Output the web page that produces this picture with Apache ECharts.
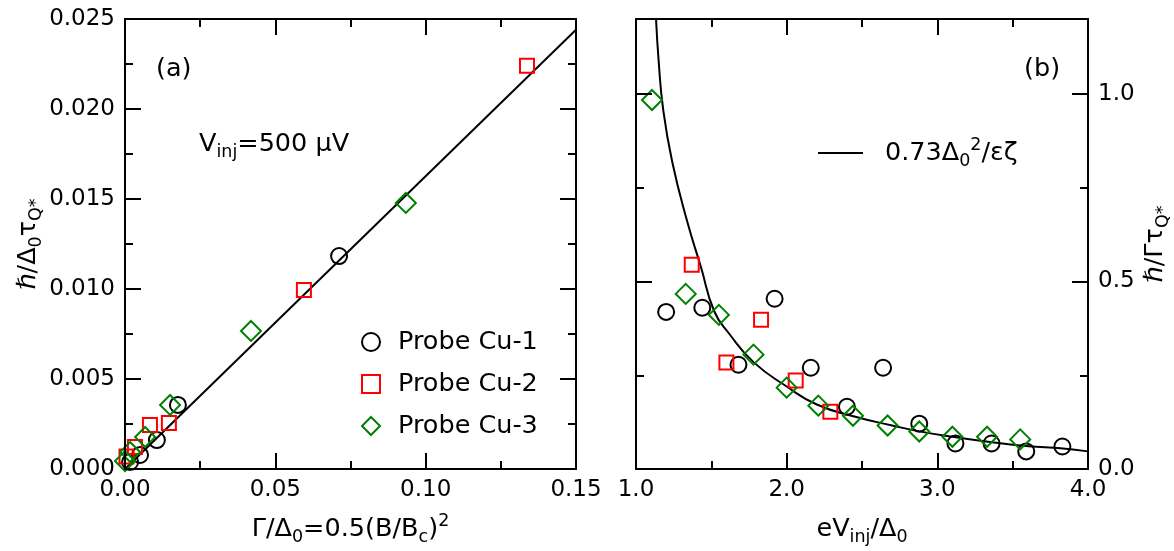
<!DOCTYPE html>
<html><head><meta charset="utf-8">
<script src="https://cdn.jsdelivr.net/npm/echarts@6/dist/echarts.min.js"></script>
<style>html,body{margin:0;padding:0;background:#fff}#c{width:1174px;height:551px}</style>
</head><body><div id="c"></div>
<script>
const FONT = 'DejaVu Sans';

// ---------- Panel (a): hbar/(Delta0 tau_Q*) vs Gamma/Delta0 ----------
const cu1A_x = [0.0712, 0.0176, 0.0106, 0.0050, 0.0017];
const cu1A_y = [0.01183, 0.00356, 0.00161, 0.00078, 0.00039];
const cu2A_x = [0.1337, 0.0595, 0.0146, 0.0083, 0.0033, 0.0005];
const cu2A_y = [0.0224, 0.00994, 0.00256, 0.00244, 0.00122, 0.00070];
const cu3A_x = [0.0934, 0.0419, 0.0150, 0.0067, 0.0017, 0.0000];
const cu3A_y = [0.01478, 0.00767, 0.00356, 0.00178, 0.00094, 0.00044];
const fitA_x = [0, 0.15];
const fitA_y = [0, 0.0244];

// ---------- Panel (b): hbar/(Gamma tau_Q*) vs eV_inj/Delta0 ----------
const cu1B_x = [1.20, 1.44, 1.92, 1.68, 2.16, 2.64, 2.40, 2.88, 3.12, 3.36, 3.59, 3.83];
const cu1B_y = [0.419, 0.430, 0.454, 0.278, 0.270, 0.270, 0.166, 0.121, 0.068, 0.068, 0.047, 0.060];
const cu2B_x = [1.37, 1.83, 1.60, 2.06, 2.29];
const cu2B_y = [0.545, 0.398, 0.284, 0.236, 0.153];
const cu3B_x = [1.106, 1.33, 1.55, 1.78, 2.00, 2.21, 2.44, 2.67, 2.88, 3.10, 3.33, 3.55];
const cu3B_y = [0.984, 0.467, 0.411, 0.305, 0.217, 0.169, 0.142, 0.116, 0.100, 0.086, 0.086, 0.079];
const fitB_x = [1.133, 1.15, 1.18, 1.24, 1.34, 1.43, 1.52, 1.62, 1.78, 2.0, 2.2, 2.45, 2.7, 2.9, 3.1, 3.35, 3.57, 3.8, 4.0];
const fitB_y = [1.20, 1.09, 0.96, 0.82, 0.66, 0.54, 0.42, 0.36, 0.285, 0.22, 0.172, 0.14, 0.116, 0.099, 0.086, 0.072, 0.062, 0.056, 0.047];

// tick labels
const xTicksA = ['0.00', '0.05', '0.10', '0.15'];
const yTicksA = ['0.000', '0.005', '0.010', '0.015', '0.020', '0.025'];
const xTicksB = ['1.0', '2.0', '3.0', '4.0'];
const yTicksB = ['0.0', '0.5', '1.0'];

const zip = (xs, ys) => xs.map((x, i) => [x, ys[i]]);

const FS = 25.5;
const TFS = 23;
const RICH = {
  n: {fontSize: FS, lineHeight: 34, fontFamily: FONT, color: '#000', verticalAlign: 'middle'},
  sub: {fontSize: 17.5, lineHeight: 17, fontFamily: FONT, color: '#000', verticalAlign: 'bottom'},
  sup: {fontSize: 17.5, lineHeight: 17, fontFamily: FONT, color: '#000', verticalAlign: 'top'}
};

const LW = 2;
const LBL = {show: true, fontSize: TFS, color: '#000', fontFamily: FONT, margin: 10};
const MAJ = 16, MIN = 8;
function axisBase(extra) {
  const o = {
    type: 'value',
    axisLine: {show: true, onZero: false, lineStyle: {color: '#000', width: LW}},
    axisTick: {show: true, inside: true, length: MAJ, lineStyle: {color: '#000', width: LW}},
    minorTick: {show: true, splitNumber: 2, length: MIN, lineStyle: {color: '#000', width: LW}},
    splitLine: {show: false},
    minorSplitLine: {show: false},
    axisLabel: {show: false},
    nameTextStyle: {rich: RICH, fontFamily: FONT},
    z: 10
  };
  return Object.assign(o, extra);
}
const pick = (labels, v, d) => { const s = v.toFixed(d); return labels.indexOf(s) >= 0 ? s : ''; };
const minorOnly = {show: true, inside: true, length: MIN, lineStyle: {color: '#000', width: LW}};

const xAxis = [
  axisBase({gridIndex: 0, position: 'bottom', min: 0, max: 0.15, interval: 0.05,
    axisLabel: Object.assign({}, LBL, {formatter: v => pick(xTicksA, v, 2)}),
    name: '{n|Γ/Δ}{sub|0}{n|=0.5(B/B}{sub|c}{n|)}{sup|2}', nameLocation: 'middle', nameGap: 43}),
  axisBase({gridIndex: 0, position: 'top', min: 0, max: 0.15, interval: 0.05}),
  axisBase({gridIndex: 1, position: 'bottom', min: 1, max: 4, interval: 1,
    axisLabel: Object.assign({}, LBL, {formatter: v => pick(xTicksB, v, 1)}),
    name: '{n|eV}{sub|inj}{n|/Δ}{sub|0}', nameLocation: 'middle', nameGap: 43}),
  axisBase({gridIndex: 1, position: 'top', min: 1, max: 4, interval: 1})
];

const yAxis = [
  axisBase({gridIndex: 0, position: 'left', min: 0, max: 0.025, interval: 0.005,
    axisLabel: Object.assign({}, LBL, {formatter: v => pick(yTicksA, v, 3)}),
    name: '{n|ℏ/Δ}{sub|0}{n|τ}{sub|Q*}', nameLocation: 'middle', nameGap: 80, nameRotate: 90}),
  axisBase({gridIndex: 0, position: 'right', min: 0, max: 0.025, interval: 0.005}),
  axisBase({gridIndex: 1, position: 'left', min: 0, max: 1.2, interval: 0.5, minorTick: {show: false}}),
  axisBase({gridIndex: 1, position: 'left', min: 0, max: 1.2, interval: 0.25, minorTick: {show: false},
    axisLine: {show: false, onZero: false}, axisTick: minorOnly}),
  axisBase({gridIndex: 1, position: 'right', min: 0, max: 1.2, interval: 0.5, minorTick: {show: false},
    axisLabel: Object.assign({}, LBL, {formatter: v => pick(yTicksB, v, 1)}),
    name: '{n|ℏ/Γτ}{sub|Q*}', nameLocation: 'middle', nameGap: 50, nameRotate: 90}),
  axisBase({gridIndex: 1, position: 'right', min: 0, max: 1.2, interval: 0.25, minorTick: {show: false},
    axisLine: {show: false, onZero: false}, axisTick: minorOnly})
];

const MK = {
  'Probe Cu-1': {symbol: 'circle', symbolSize: 16, color: '#000'},
  'Probe Cu-2': {symbol: 'rect', symbolSize: 14, color: '#ff0000'},
  'Probe Cu-3': {symbol: 'diamond', symbolSize: 20, color: '#008000'}
};
function scat(name, data, xi, yi) {
  const m = MK[name];
  return {
    type: 'scatter', name: name, data: data, xAxisIndex: xi, yAxisIndex: yi,
    symbol: m.symbol, symbolSize: m.symbolSize,
    itemStyle: {color: 'rgba(0,0,0,0)', borderColor: m.color, borderWidth: 2, opacity: 1},
    emphasis: {disabled: true}, z: 3
  };
}
function line(name, data, xi, yi, smooth) {
  return {
    type: 'line', name: name, data: data, xAxisIndex: xi, yAxisIndex: yi,
    symbol: 'none', smooth: smooth, clip: true,
    lineStyle: {color: '#000', width: 2}, itemStyle: {color: '#000'},
    emphasis: {disabled: true}, z: 2
  };
}

const option = {
  animation: false,
  backgroundColor: '#fff',
  textStyle: {fontFamily: FONT},
  grid: [
    {left: 125, top: 19, width: 451, height: 450},
    {left: 636, top: 19, width: 452, height: 450}
  ],
  xAxis: xAxis,
  yAxis: yAxis,
  legend: [
    {data: ['Probe Cu-1', 'Probe Cu-2', 'Probe Cu-3'], orient: 'vertical', left: 356, top: 324,
     itemWidth: 18, itemHeight: 18, itemGap: 16, selectedMode: false,
     textStyle: {fontSize: FS, color: '#000', fontFamily: FONT, padding: [0, 0, 0, 13], lineHeight: 18}},
    {data: [{name: 'fit', icon: 'rect'}], left: 813, top: 131, itemWidth: 45, itemHeight: 2, selectedMode: false,
     formatter: () => '{n|0.73Δ}{sub|0}{sup|2}{n|/εζ}',
     textStyle: {rich: RICH, padding: [0, 0, 0, 17], fontFamily: FONT}}
  ],
  graphic: [
    {type: 'text', left: 156, top: 56, style: {text: '(a)', fontSize: FS, fontFamily: FONT, fill: '#000'}},
    {type: 'text', left: 1024, top: 56, style: {text: '(b)', fontSize: FS, fontFamily: FONT, fill: '#000'}},
    {type: 'text', left: 199, top: 131, style: {text: '{n|V}{sub|inj}{n|=500 μV}', rich: RICH, fontFamily: FONT}}
  ],
  series: [
    line('fitA', zip(fitA_x, fitA_y), 0, 0, false),
    scat('Probe Cu-1', zip(cu1A_x, cu1A_y), 0, 0),
    scat('Probe Cu-2', zip(cu2A_x, cu2A_y), 0, 0),
    scat('Probe Cu-3', zip(cu3A_x, cu3A_y), 0, 0),
    line('fit', zip(fitB_x, fitB_y), 2, 2, true),
    scat('Probe Cu-1', zip(cu1B_x, cu1B_y), 2, 2),
    scat('Probe Cu-2', zip(cu2B_x, cu2B_y), 2, 2),
    scat('Probe Cu-3', zip(cu3B_x, cu3B_y), 2, 2)
  ]
};
echarts.init(document.getElementById('c'), null, {renderer: 'canvas'}).setOption(option);
</script>
</body></html>
